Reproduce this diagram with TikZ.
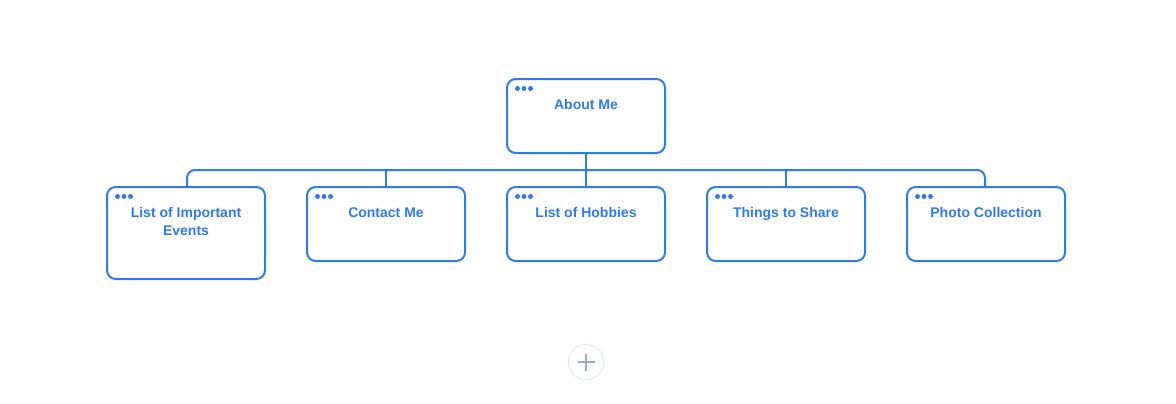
\documentclass[tikz,border=0pt]{standalone}
\usepackage{fontspec}
\setmainfont{Liberation Sans}
\definecolor{mblue}{HTML}{2F7BEA}
\definecolor{pgray}{HTML}{E4E8EF}
\definecolor{pplus}{HTML}{9EADC3}
\begin{document}
\begin{tikzpicture}[x=0.75pt,y=-0.75pt,
  card/.style={draw=mblue,line width=1.5pt,rounded corners=6.5pt,minimum width=118.5pt,minimum height=55.5pt,inner sep=0pt,fill=white},
  lbl/.style={text=mblue,font=\fontsize{10.5}{13.5}\selectfont\bfseries,align=center,inner sep=0pt,anchor=base},
  conn/.style={draw=mblue,line width=1.5pt},
  dot/.style={fill=mblue,circle,inner sep=0pt,minimum size=3.7pt}]
\useasboundingbox (0,0) rectangle (1176,403);
% boxes
\node[card] (root) at (586,116) {};
\node[card,minimum height=69pt] (c1) at (186,233) {};
\node[card] (c2) at (386,224) {};
\node[card] (c3) at (586,224) {};
\node[card] (c4) at (786,224) {};
\node[card] (c5) at (986,224) {};
% dots
\foreach \n/\x/\y in {root/517.5/88.5, c1/117.5/196.5, c2/317.5/196.5, c3/517.5/196.5, c4/717.5/196.5, c5/917.5/196.5}{
  \node[dot] at (\x,\y) {};
  \node[dot] at (\x+6.5,\y) {};
  \node[dot] at (\x+13,\y) {};
}
% labels
\node[lbl] (troot) at (586,109) {About Me};
\node[lbl] (t1) at (186,235) {List of Important\\Events};
\node[lbl] (t2) at (386,217) {Contact Me};
\node[lbl] (t3) at (586,217) {List of Hobbies};
\node[lbl] (t4) at (786,217) {Things to Share};
\node[lbl] (t5) at (986,217) {Photo Collection};
% connectors
\coordinate (bus) at (586,170);
\draw[conn] (root.south) -- (c3.north);
\draw[conn,rounded corners=6pt] (c1.north -| 187,0) -- (187,170) -- (985,170) -- (c5.north -| 985,0);
\draw[conn] (c2.north) -- (c2.north |- bus);
\draw[conn] (c4.north) -- (c4.north |- bus);
% plus button
\node[draw=pgray,line width=0.8pt,circle,minimum size=26.5pt,inner sep=0pt] (plus) at (586,362) {};
\draw[pplus,line width=1.3pt] (586,353.5) -- (586,370.5) (577.5,362) -- (594.5,362);
\end{tikzpicture}
\end{document}
